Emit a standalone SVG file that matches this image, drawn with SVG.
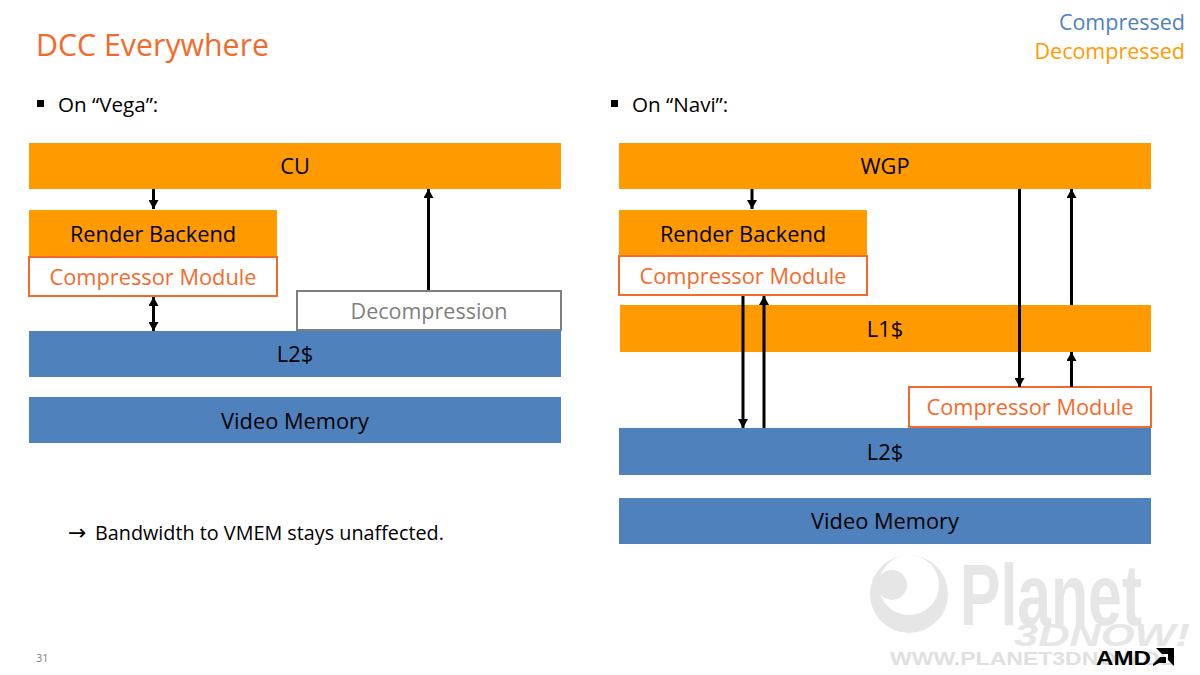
<svg xmlns="http://www.w3.org/2000/svg" width="1200" height="675" viewBox="0 0 1200 675">
<style>
text{font-family:"Open Sans","Noto Sans","Liberation Sans",sans-serif}
.l{font-size:21.8px;fill:#000;text-anchor:middle}
.c{font-size:21.8px;fill:#f26b2b;text-anchor:middle}
.s{font-size:20.6px;fill:#000}
.n{font-size:19.8px;fill:#000}
.o{fill:#ff9a00}.b{fill:#4f81bd}
.m{fill:#fff;stroke:#f26b2b;stroke-width:2}
.w{fill:#e6e6e6}
.a{stroke:#000;stroke-width:3;fill:none}
</style>
<defs>
<marker id="h" markerUnits="userSpaceOnUse" markerWidth="10" markerHeight="10" refX="9" refY="5" orient="auto-start-reverse"><path d="M0 0L9 5L0 10Z" fill="#000"/></marker>
</defs>
<rect width="1200" height="675" fill="#fff"/>
<g id="watermark">
<circle class="w" cx="909" cy="594" r="39"/>
<circle cx="909" cy="585" r="30" fill="#fff"/>
<circle class="w" cx="892" cy="585" r="15"/>
<text x="960" y="625" font-size="88" font-weight="700" fill="#e6e6e6" textLength="182" lengthAdjust="spacingAndGlyphs" style="font-family:'Liberation Sans',sans-serif">Planet</text>
<text x="1014" y="646" font-size="31" font-weight="700" font-style="italic" fill="#e6e6e6" textLength="176" lengthAdjust="spacingAndGlyphs" style="font-family:'Liberation Sans',sans-serif">3DNOW!</text>
<text x="890" y="665" font-size="18" font-weight="700" fill="#e0e0e0" textLength="285" lengthAdjust="spacingAndGlyphs" style="font-family:'Liberation Sans',sans-serif">WWW.PLANET3DNOW.DE</text>
</g>
<text x="36" y="56" font-size="30.300" fill="#f26b2b">DCC Everywhere</text>
<text x="1185" y="30" font-size="21.500" fill="#4f81bd" text-anchor="end">Compressed</text>
<text x="1185" y="59" font-size="21.500" fill="#ff9a00" text-anchor="end">Decompressed</text>
<rect x="37" y="100" width="7" height="7" fill="#000"/>
<text x="58" y="112" class="s">On “Vega”:</text>
<rect x="611" y="100" width="7" height="7" fill="#000"/>
<text x="632" y="112" class="s">On “Navi”:</text>
<g id="cu"><rect class="o" x="29" y="143" width="532" height="46"/><text class="l" x="295" y="174">CU</text></g>
<g id="rb1"><rect class="o" x="29" y="210" width="248" height="47"/><text class="l" x="153" y="242">Render Backend</text></g>
<g id="cm1"><rect class="m" x="29" y="257" width="248" height="39"/><text class="c" x="153" y="285">Compressor Module</text></g>
<g id="dec"><rect x="297" y="291" width="264" height="39" fill="#fff" stroke="#7f7f7f" stroke-width="2"/><text x="429" y="319" font-size="21.500" fill="#7f7f7f" text-anchor="middle">Decompression</text></g>
<g id="l21"><rect class="b" x="29" y="331" width="532" height="46"/><text class="l" x="295" y="362">L2$</text></g>
<g id="vm1"><rect class="b" x="29" y="397" width="532" height="46"/><text class="l" x="295" y="429">Video Memory</text></g>
<text x="68" y="540" class="n"><tspan style="font-family:'DejaVu Sans',sans-serif" font-size="22">→</tspan><tspan x="95">Bandwidth to VMEM stays unaffected.</tspan></text>
<g id="wgp"><rect class="o" x="619" y="143" width="532" height="46"/><text class="l" x="885" y="174">WGP</text></g>
<g id="rb2"><rect class="o" x="619" y="210" width="248" height="46"/><text class="l" x="743" y="242">Render Backend</text></g>
<g id="cm2"><rect class="m" x="619" y="256" width="248" height="39"/><text class="c" x="743" y="284">Compressor Module</text></g>
<g id="l1"><rect class="o" x="620" y="305" width="531" height="47"/><text class="l" x="885" y="337">L1$</text></g>
<g id="cm3"><rect class="m" x="909" y="387" width="242" height="40"/><text class="c" x="1030" y="415">Compressor Module</text></g>
<g id="l22"><rect class="b" x="619" y="428" width="532" height="47"/><text class="l" x="885" y="460">L2$</text></g>
<g id="vm2"><rect class="b" x="619" y="498" width="532" height="46"/><text class="l" x="885" y="529">Video Memory</text></g>
<g id="connectors">
<path class="a" d="M153.500 189V209" marker-end="url(#h)"/>
<path class="a" d="M153.500 297V331" marker-start="url(#h)" marker-end="url(#h)"/>
<path class="a" d="M428.500 290V189" marker-end="url(#h)"/>
<path class="a" d="M752 189V209" marker-end="url(#h)"/>
<path class="a" d="M743 296V428" marker-end="url(#h)"/>
<path class="a" d="M764 428V296" marker-end="url(#h)"/>
<path class="a" d="M1019.500 189V387" marker-end="url(#h)"/>
<path class="a" d="M1071.500 305V189" marker-end="url(#h)"/>
<path class="a" d="M1071.500 387V352" marker-end="url(#h)"/>
</g>
<text x="36" y="662" font-size="11" fill="#7f7f7f">31</text>
<g id="amd"><text x="1096" y="665" font-size="20" font-weight="700" fill="#000" textLength="55" lengthAdjust="spacingAndGlyphs" style="font-family:'Liberation Sans',sans-serif">AMD</text>
<path d="M1156 648H1174V666L1168 660V654H1162ZM1160 657H1166V663H1159L1153 666V664Z" fill="#000"/></g>
</svg>
